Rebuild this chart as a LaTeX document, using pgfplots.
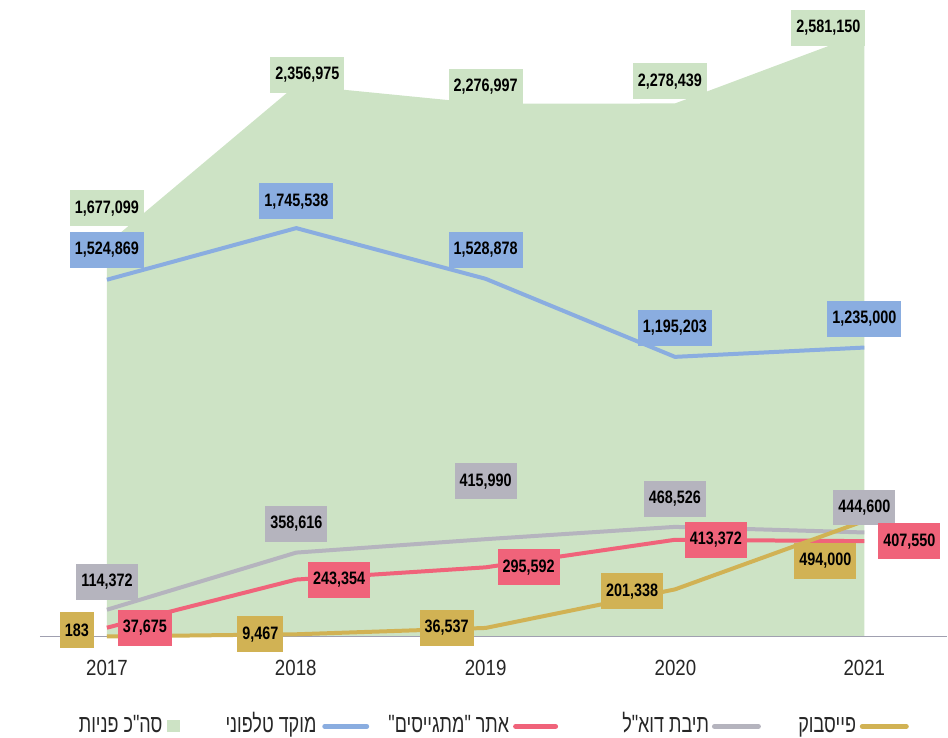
\documentclass[border=0pt]{standalone}
\usepackage{pgfplots}
\pgfplotsset{compat=1.18}
\usepackage{fontspec}
\setmainfont{Liberation Sans}
\newfontfamily\hebfont[Script=Hebrew,FakeStretch=0.72]{Liberation Sans}
\newfontfamily\numfont[FakeStretch=0.8]{Liberation Sans}
\newfontfamily\yrfont[FakeStretch=0.85]{Liberation Sans}
\TeXXeTstate=1
\definecolor{totfill}{RGB}{205,227,197}
\definecolor{phone}{RGB}{138,173,224}
\definecolor{site}{RGB}{240,99,122}
\definecolor{mail}{RGB}{181,180,190}
\definecolor{fb}{RGB}{209,178,84}
\definecolor{basecol}{RGB}{160,160,176}

\tikzset{vbox/.style={font=\numfont\bfseries\fontsize{9}{9}\selectfont,
    minimum height=18pt, inner xsep=2.5pt, inner ysep=0pt, text=black},
  legtxt/.style={anchor=base east, font=\hebfont\fontsize{12.5}{12.5}\selectfont, inner sep=0pt, text=black!85}}
% value label: colour, x, y, xshift, yshift, text
\newcommand{\vl}[6]{\node[vbox, fill=#1, xshift=#4, yshift=#5] at (axis cs:#2,#3) {#6};}

\begin{document}
\begin{tikzpicture}
\begin{axis}[
    name=ax,
    width=474pt, height=367.5pt, scale only axis,
    xmin=2016.4354, xmax=2021.4380,
    ymin=-418558, ymax=2720627,
    axis lines=none, xtick=\empty, ytick=\empty,
    clip=false,
]
% total requests
\addplot[fill=totfill, draw=none] coordinates {
    (2017,0) (2017,1677099) (2018,2356975) (2019,2276997) (2020,2278439) (2021,2581150) (2021,0)
} \closedcycle;
\draw[basecol, line width=0.75pt] (axis cs:2016.6465,0) -- (axis cs:2021.438,0);
% phone center
\addplot[phone, line width=2pt] coordinates {
    (2017,1524869) (2018,1745538) (2019,1528878) (2020,1195203) (2021,1235000)
};
% email
\addplot[mail, line width=2pt] coordinates {
    (2017,114372) (2018,358616) (2019,415990) (2020,468526) (2021,444600)
};
% website
\addplot[site, line width=2pt] coordinates {
    (2017,37675) (2018,243354) (2019,295592) (2020,413372) (2021,407550)
};
% facebook
\addplot[fb, line width=2pt] coordinates {
    (2017,183) (2018,9467) (2019,36537) (2020,201338) (2021,494000)
};

\vl{totfill}{2017}{1677099}{0pt}{18pt}{1,677,099}
\vl{totfill}{2018}{2356975}{5.5pt}{5pt}{2,356,975}
\vl{totfill}{2019}{2276997}{0pt}{8.5pt}{2,276,997}
\vl{totfill}{2020}{2278439}{-2.5pt}{11pt}{2,278,439}
\vl{totfill}{2021}{2581150}{-18pt}{2.5pt}{2,581,150}

\vl{phone}{2017}{1524869}{0pt}{15pt}{1,524,869}
\vl{phone}{2018}{1745538}{0pt}{13.5pt}{1,745,538}
\vl{phone}{2019}{1528878}{0pt}{14.5pt}{1,528,878}
\vl{phone}{2020}{1195203}{0pt}{14.5pt}{1,195,203}
\vl{phone}{2021}{1235000}{0pt}{14.5pt}{1,235,000}

\vl{mail}{2017}{114372}{0pt}{14pt}{114,372}
\vl{mail}{2018}{358616}{0pt}{14.5pt}{358,616}
\vl{mail}{2019}{415990}{0pt}{29pt}{415,990}
\vl{mail}{2020}{468526}{0pt}{14pt}{468,526}
\vl{mail}{2021}{444600}{0pt}{12.5pt}{444,600}

\vl{site}{2017}{37675}{19pt}{0pt}{37,675}
\vl{site}{2018}{243354}{21.5pt}{0pt}{243,354}
\vl{site}{2019}{295592}{21.5pt}{0pt}{295,592}
\vl{site}{2020}{413372}{20.5pt}{0pt}{413,372}
\vl{site}{2021}{407550}{22.5pt}{0pt}{407,550}

\vl{fb}{2017}{183}{-15pt}{3pt}{183}
\vl{fb}{2018}{9467}{-18pt}{0pt}{9,467}
\vl{fb}{2019}{36537}{-19.5pt}{0pt}{36,537}
\vl{fb}{2020}{201338}{-21.5pt}{-1pt}{201,338}
\vl{fb}{2021}{494000}{-19.5pt}{-20pt}{494,000}
\end{axis}
\path (ax.south west) rectangle (ax.north east);
\begin{scope}[shift={(ax.north west)}, x=0.5pt, y=-0.5pt]
  \foreach \px/\yr in {107/2017, 296/2018, 486/2019, 676/2020, 865/2021}
    \node[font=\yrfont\fontsize{11}{11}\selectfont, text=black!85] at (\px,668) {\yr};
  % legend (right to left)
  \draw[fb, line width=2.5pt, line cap=round] (863,727) -- (907,727);
  \node[legtxt] at (857,733) {\beginR פייסבוק\endR};
  \draw[mail, line width=2.5pt, line cap=round] (715,727) -- (759,727);
  \node[legtxt] at (710,733) {\beginR תיבת דוא"ל\endR};
  \draw[site, line width=2.5pt, line cap=round] (516,727) -- (556,727);
  \node[legtxt] at (510,733) {\beginR אתר "מתגייסים"\endR};
  \draw[phone, line width=2.5pt, line cap=round] (325,727) -- (367,727);
  \node[legtxt] at (317,733) {\beginR מוקד טלפוני\endR};
  \fill[totfill] (167,721) rectangle (180,733);
  \node[legtxt] at (163,733) {\beginR סה"כ פניות\endR};
\end{scope}
\end{tikzpicture}
\end{document}
